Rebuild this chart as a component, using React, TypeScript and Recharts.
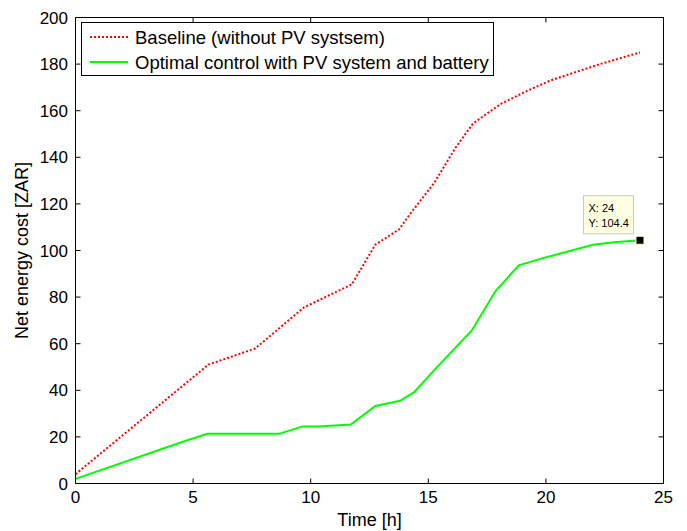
import { LineChart, Line, XAxis, YAxis, ReferenceDot, Legend, Label } from 'recharts';

// Baseline (without PV) - hours vs cost
const baselineHours = [0, 5.65, 7.65, 9.7, 11.75, 12.75, 13.75, 14.25, 15.25, 16.15, 16.9, 17.6, 18.1, 19.2, 20.2, 22.3, 24];
const baselineCost = [4, 51, 58, 75.5, 85.5, 102.5, 109, 116, 129, 144, 154.5, 159.5, 163, 168.5, 173, 180, 185];

// Optimal control with PV system and battery
const optimalHours = [0, 4.5, 5.6, 8.65, 9.65, 10.35, 11.7, 12.75, 13.8, 14.4, 15.3, 16.85, 17.85, 18.85, 19.8, 22.0, 22.9, 24];
const optimalCost = [2, 17.7, 21.3, 21.3, 24.5, 24.5, 25.3, 33.3, 35.5, 39.2, 49.2, 65.7, 82.5, 93.6, 96.5, 102.5, 103.5, 104.4];

const xTicks = [0, 5, 10, 15, 20, 25];
const yTicks = [0, 20, 40, 60, 80, 100, 120, 140, 160, 180, 200];

const tipPoint = { x: 24, y: 104.4 };

const seriesNames = ['Baseline (without PV systsem)', 'Optimal control with PV system and battery'];

const baselineData = baselineHours.map((t, i) => ({ t, v: baselineCost[i] }));
const optimalData = optimalHours.map((t, i) => ({ t, v: optimalCost[i] }));

const FONT = '"Liberation Sans", Arial, sans-serif';
const tickStyle = { fill: '#000', fontSize: 17, fontFamily: FONT };

function LegendBox() {
  return (
    <svg width={413} height={54} style={{ display: 'block' }}>
      <rect x={0.5} y={0.5} width={412} height={53} fill="#fff" stroke="#000" strokeWidth={1} />
      <line x1={9} x2={47} y1={15} y2={15} stroke="#ff0000" strokeWidth={2} strokeDasharray="2 2" />
      <text x={54} y={21.5} fontSize={18.5} fontFamily={FONT} fill="#000">{seriesNames[0]}</text>
      <line x1={9} x2={47} y1={40} y2={40} stroke="#00ff00" strokeWidth={2} />
      <text x={54} y={46.5} fontSize={18.5} fontFamily={FONT} fill="#000">{seriesNames[1]}</text>
    </svg>
  );
}

function DataTip(props: any) {
  const { cx, cy } = props;
  return (
    <g>
      <rect x={cx - 56.5} y={cy - 44.5} width={50} height={38} fill="#ffffe1" stroke="#c8c8c8" strokeWidth={1} />
      <text x={cx - 51.5} y={cy - 28} fontSize={11} fontFamily={FONT} fill="#000">X: {tipPoint.x}</text>
      <text x={cx - 51.5} y={cy - 13} fontSize={11} fontFamily={FONT} fill="#000">Y: {tipPoint.y}</text>
      <rect x={cx - 4} y={cy - 4} width={8} height={8} fill="#000" stroke="#ffffc8" strokeWidth={1} />
    </g>
  );
}

export default function App() {
  return (
    <div style={{ position: 'absolute', left: 0, top: 0, width: 687, height: 531, background: '#fff' }}>
      <LineChart width={687} height={531} margin={{ top: 0, right: 0, bottom: 0, left: 0 }}>
        <XAxis
          xAxisId="bottom"
          dataKey="t"
          type="number"
          domain={[0, 25]}
          ticks={xTicks}
          orientation="bottom"
          height={47.5}
          tickSize={-5}
          tickMargin={12}
          tick={tickStyle}
          stroke="#000"
          allowDataOverflow
        >
          <Label
            content={(p: any) => {
              const vb = p.viewBox;
              return (
                <text x={vb.x + vb.width / 2} y={526} textAnchor="middle" fontSize={18} fontFamily={FONT} fill="#000">
                  Time [h]
                </text>
              );
            }}
          />
        </XAxis>
        <XAxis
          xAxisId="top"
          dataKey="t"
          type="number"
          domain={[0, 25]}
          ticks={xTicks}
          orientation="top"
          height={17.5}
          tickSize={-5}
          tickFormatter={() => ''}
          stroke="#000"
          allowDataOverflow
        />
        <YAxis
          yAxisId="left"
          type="number"
          domain={[0, 200]}
          ticks={yTicks}
          orientation="left"
          width={75.5}
          tickSize={-5}
          tickMargin={12.5}
          tick={tickStyle}
          stroke="#000"
          allowDataOverflow
        >
          <Label
            content={(p: any) => {
              const vb = p.viewBox;
              const cy = vb.y + vb.height / 2;
              return (
                <text
                  x={28}
                  y={cy}
                  transform={`rotate(-90, 28, ${cy})`}
                  textAnchor="middle"
                  fontSize={18}
                  fontFamily={FONT}
                  fill="#000"
                >
                  Net energy cost [ZAR]
                </text>
              );
            }}
          />
        </YAxis>
        <YAxis
          yAxisId="right"
          type="number"
          domain={[0, 200]}
          ticks={yTicks}
          orientation="right"
          width={23.5}
          tickSize={-5}
          tickFormatter={() => ''}
          stroke="#000"
          allowDataOverflow
        />
        <Legend
          layout="horizontal"
          verticalAlign="middle"
          align="center"
          wrapperStyle={{ left: 81, top: 22, width: 413, height: 54 }}
          content={() => <LegendBox />}
        />
        <Line
          xAxisId="bottom"
          yAxisId="left"
          data={baselineData}
          dataKey="v"
          name={seriesNames[0]}
          type="linear"
          stroke="#ff0000"
          strokeWidth={2}
          strokeDasharray="2 2"
          dot={false}
          activeDot={false}
          isAnimationActive={false}
        />
        <Line
          xAxisId="bottom"
          yAxisId="left"
          data={optimalData}
          dataKey="v"
          name={seriesNames[1]}
          type="linear"
          stroke="#00ff00"
          strokeWidth={2}
          dot={false}
          activeDot={false}
          isAnimationActive={false}
        />
        <ReferenceDot
          xAxisId="bottom"
          yAxisId="left"
          x={tipPoint.x}
          y={tipPoint.y}
          r={4}
          shape={DataTip}
        />
      </LineChart>
    </div>
  );
}
